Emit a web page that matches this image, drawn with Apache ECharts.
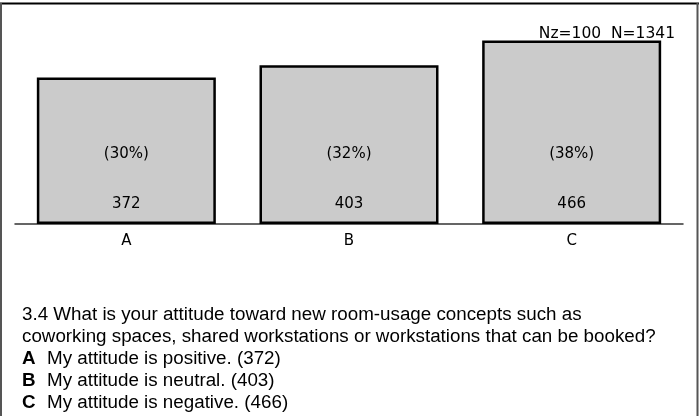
<!DOCTYPE html>
<html>
<head>
<meta charset="utf-8">
<script src="https://cdn.jsdelivr.net/npm/echarts@6/dist/echarts.min.js"></script>
<style>
html,body{margin:0;padding:0;background:#fff;}
#chart{width:699px;height:416px;}
</style>
</head>
<body>
<div id="chart"></div>
<script>
var categories = ['A', 'B', 'C'];
var counts = [372, 403, 466];
var percentLabels = ['(30%)', '(32%)', '(38%)'];
var sampleNote = 'Nz=100  N=1341';
var questionLines = [
  '3.4 What is your attitude toward new room-usage concepts such as',
  'coworking spaces, shared workstations or workstations that can be booked?'
];
var answerKeys = ['A', 'B', 'C'];
var answerTexts = ['My attitude is positive. (372)', 'My attitude is neutral. (403)', 'My attitude is negative. (466)'];

var chart = echarts.init(document.getElementById('chart'), null, {renderer: 'canvas'});
var chartFont = 'DejaVu Sans';

var graphics = [
  {type: 'line', shape: {x1: 0, y1: 3.5, x2: 699, y2: 3.5}, style: {stroke: '#000', lineWidth: 2}},
  {type: 'line', shape: {x1: 1, y1: 3, x2: 1, y2: 416}, style: {stroke: '#555', lineWidth: 2}},
  {type: 'line', shape: {x1: 697.5, y1: 3, x2: 697.5, y2: 416}, style: {stroke: '#555', lineWidth: 2}}
];
var y0 = 314.5;
var lh = 22;
var fs = 18.8;
questionLines.forEach(function (t, i) {
  graphics.push({type: 'text', left: 22, top: y0 + i * lh - fs / 2, style: {text: t, font: fs + 'px "Liberation Sans"', fill: '#000'}});
});
answerKeys.forEach(function (k, i) {
  var y = y0 + (i + 2) * lh - fs / 2;
  graphics.push({type: 'text', left: 22, top: y, style: {text: k, font: 'bold ' + fs + 'px "Liberation Sans"', fill: '#000'}});
  graphics.push({type: 'text', left: 47, top: y, style: {text: answerTexts[i], font: fs + 'px "Liberation Sans"', fill: '#000'}});
});

chart.setOption({
  animation: false,
  title: {
    text: sampleNote, right: 19, top: 21,
    textStyle: {fontFamily: chartFont, fontSize: 15.5, fontWeight: 'normal', color: '#000'}
  },
  grid: {left: 15, right: 16, top: 27, bottom: 192},
  xAxis: [{
    type: 'category', data: categories,
    axisLine: {lineStyle: {color: '#333', width: 1.5}},
    axisTick: {alignWithLabel: true, length: 4, lineStyle: {color: '#333'}},
    axisLabel: {color: '#000', fontFamily: chartFont, fontSize: 15, margin: 10}
  }, {
    type: 'category', data: categories, position: 'bottom',
    axisLine: {show: false},
    axisTick: {alignWithLabel: true, inside: true, length: 4, lineStyle: {color: '#333'}},
    axisLabel: {show: false}
  }],
  yAxis: {type: 'value', min: 0, max: 500, show: false, splitLine: {show: false}},
  series: [{
    type: 'bar', data: counts, barWidth: 179, barGap: '-100%',
    itemStyle: {color: '#cbcbcb', borderColor: '#000', borderWidth: 2.5},
    label: {show: true, position: 'insideBottom', distance: 12, color: '#000', fontFamily: chartFont, fontSize: 15}
  }, {
    type: 'bar', data: counts, barWidth: 179, barGap: '-100%',
    itemStyle: {color: 'rgba(0,0,0,0)'},
    label: {show: true, position: 'insideBottom', distance: 62, color: '#000', fontFamily: chartFont, fontSize: 15,
      formatter: function (p) { return percentLabels[p.dataIndex]; }}
  }],
  graphic: graphics
});
</script>
</body>
</html>
